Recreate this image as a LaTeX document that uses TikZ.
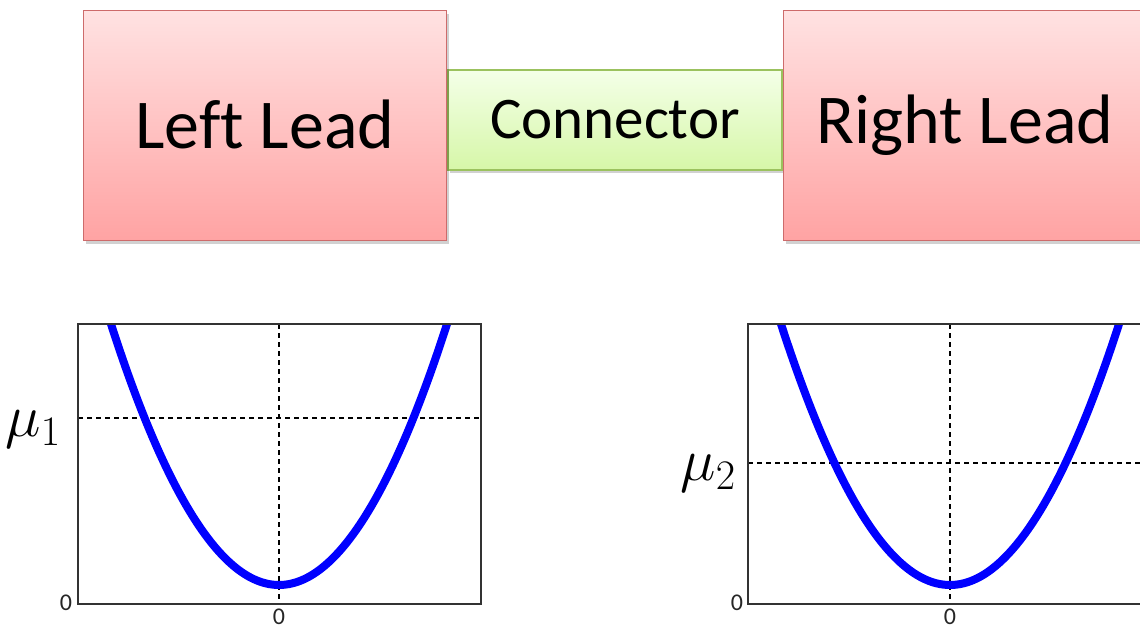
\documentclass[tikz,border=0pt]{standalone}
\usepackage{fix-cm}
\usepackage{fontspec}
\setmainfont{Carlito}[Ligatures=NoCommon]
\usetikzlibrary{shadows}
\definecolor{leadtop}{HTML}{FFE2E2}
\definecolor{leadbot}{HTML}{FFA3A3}
\definecolor{leadline}{HTML}{CD6B6B}
\definecolor{contop}{HTML}{F4FFE8}
\definecolor{conbot}{HTML}{D6F7A8}
\definecolor{conline}{HTML}{9BC25E}
\definecolor{framecol}{HTML}{333333}
\tikzset{
  leadbox/.style={draw=leadline, line width=1.3pt, top color=leadtop, bottom color=leadbot,
    minimum width=363pt, minimum height=230pt, inner sep=0pt,
    font=\fontsize{70}{74}\selectfont,
    drop shadow={shadow xshift=2pt, shadow yshift=-3pt, fill=black, opacity=0.18}},
  conbox/.style={draw=conline, line width=1.3pt, top color=contop, bottom color=conbot,
    minimum width=334pt, minimum height=100pt, inner sep=0pt,
    font=\fontsize{59}{62}\selectfont,
    drop shadow={shadow xshift=2pt, shadow yshift=-3pt, fill=black, opacity=0.18}},
  plotframe/.style={draw=framecol, line width=1.6pt},
  guide/.style={draw=black, line width=1.8pt, dash pattern=on 4.5pt off 4.5pt},
  band/.style={draw=blue, line width=8pt},
  ticklbl/.style={font=\fontsize{24}{26}\selectfont, text=black!85, inner sep=0pt},
  mulbl/.style={font=\fontsize{60}{64}\selectfont, inner sep=0pt}
}
\begin{document}
\begin{tikzpicture}[x=1pt,y=-1pt]
\useasboundingbox (0,0) rectangle (1140,629);
\clip (0,0) rectangle (1140,629);
% top blocks
\node[conbox] (con) at (615,120) {\raisebox{1pt}{Connector}};
\node[leadbox] (ll) at (265,125.5) {\raisebox{3pt}{Left Lead}};
\node[leadbox] (rl) at (965,125.5) {\raisebox{3pt}{Right Lead}};
% left plot
\coordinate (f1a) at (78,324);
\coordinate (f1b) at (481,604);
\draw[guide] (279,324) -- (279,604);
\draw[guide] (78,418) -- (481,418);
\begin{scope}
\clip (f1a) rectangle (f1b);
\draw[band] plot[domain=-175:175, samples=90, smooth] ({279+\x},{585-261*(\x/168)^2});
\end{scope}
\draw[plotframe] (f1a) rectangle (f1b);
\node[mulbl] (mu1) at (33,429) {$\mu_1$};
\node[ticklbl] (y01) at (66,603) {0};
\node[ticklbl] (x01) at (279,616.5) {0};
% right plot
\coordinate (f2a) at (748,324);
\coordinate (f2b) at (1152,604);
\draw[guide] (950,324) -- (950,604);
\draw[guide] (748,463) -- (1152,463);
\begin{scope}
\clip (f2a) rectangle (f2b);
\draw[band] plot[domain=-176:176, samples=90, smooth] ({950+\x},{585-261*(\x/169)^2});
\end{scope}
\draw[plotframe] (f2a) rectangle (f2b);
\node[mulbl] (mu2) at (708,473) {$\mu_2$};
\node[ticklbl] (y02) at (737,603) {0};
\node[ticklbl] (x02) at (950,616.5) {0};
\end{tikzpicture}
\end{document}
